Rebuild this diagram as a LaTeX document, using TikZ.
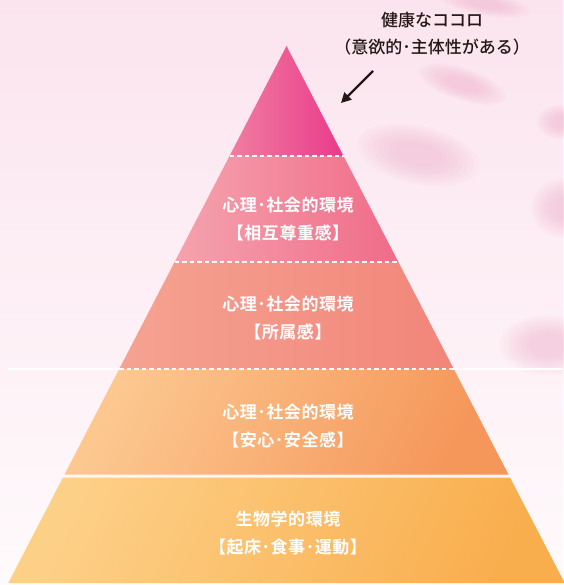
\documentclass[tikz,border=0pt]{standalone}
\usepackage{fontspec}
\setmainfont{Noto Sans CJK JP}
\newfontfamily\lblfont{Noto Sans CJK JP Bold}[LetterSpace=3]
\newfontfamily\topfont{Noto Sans CJK JP Medium}
\usetikzlibrary{arrows.meta}
\definecolor{bgtop}{HTML}{FBE4EE}
\definecolor{bgbot}{HTML}{FFFAFC}
\definecolor{blobpink}{HTML}{F3B3CD}
\definecolor{aL}{HTML}{F07EA0}
\definecolor{aR}{HTML}{EA3A8A}
\definecolor{bL}{HTML}{F5A3AE}
\definecolor{bR}{HTML}{F06B88}
\definecolor{cL}{HTML}{F5A392}
\definecolor{cR}{HTML}{F2857A}
\definecolor{dL}{HTML}{FCC890}
\definecolor{dR}{HTML}{F5965A}
\definecolor{eL}{HTML}{FDD088}
\definecolor{eR}{HTML}{F9AE4E}
\definecolor{ink}{HTML}{231815}
\newcommand\softblob[5]{%
  \foreach \s in {1.15,1.05,0.95,0.85,0.75,0.65,0.55,0.45}{%
    \fill[blobpink, opacity=0.08, rotate around={#5:(#1,#2)}] (#1,#2) ellipse ({#3*\s} and {#4*\s});}}
\tikzset{
  lbl/.style={text=white, font=\lblfont\fontsize{17}{28}\selectfont, align=center, inner sep=0pt},
  toplbl/.style={text=ink, font=\topfont\fontsize{17}{27}\selectfont, align=center, inner sep=0pt},
  sep/.style={draw=white, line width=1.2pt, dash pattern=on 4.5pt off 3pt},
}
\begin{document}
\begin{tikzpicture}[x=1pt,y=1pt]
% background
\shade[top color=bgtop, bottom color=bgbot] (0,0) rectangle (563,-585);
\useasboundingbox (0,0) rectangle (563,-585);
\softblob{462}{-84}{40}{14}{-18}
\softblob{418}{-155}{54}{25}{-12}
\softblob{562}{-122}{22}{15}{0}
\softblob{566}{-208}{30}{26}{0}
\softblob{548}{-345}{42}{26}{0}
\softblob{485}{-4}{40}{10}{-10}
% full-width white line
\draw[white, line width=2pt] (8,-369) -- (563,-369);
% bands
\shade[left color=aL, right color=aR] (286.5,-46) -- (343.5,-156) -- (229.5,-156) -- cycle;
\shade[left color=bL, right color=bR] (229.5,-156) -- (343.5,-156) -- (398.4,-262) -- (174.6,-262) -- cycle;
\shade[left color=cL, right color=cR] (174.6,-262) -- (398.4,-262) -- (453.8,-369) -- (119.2,-369) -- cycle;
\shade[top color=dL, bottom color=dR, shading angle=65] (119.2,-369) -- (453.8,-369) -- (508.5,-474.5) -- (64.5,-474.5) -- cycle;
\shade[top color=eL, bottom color=eR, shading angle=65] (63,-477.5) -- (510,-477.5) -- (564.7,-583) -- (8.3,-583) -- cycle;
% separators
\draw[sep] (229.5,-156) -- (343.5,-156);
\draw[sep] (174.6,-262) -- (398.4,-262);
\draw[sep] (119.2,-369) -- (453.8,-369);
% labels
\node[lbl] (l2) at (288,-219) {心理･社会的環境\\【相互尊重感】};
\node[lbl] (l3) at (288,-318) {心理･社会的環境\\【所属感】};
\node[lbl] (l4) at (288,-426) {心理･社会的環境\\【安心･安全感】};
\node[lbl] (l5) at (288,-533) {生物学的環境\\【起床･食事･運動】};
\node[toplbl] (top) at (432,-34) {健康なココロ\\（意欲的･主体性がある）};
% arrow
\coordinate (as) at (373,-71);
\coordinate (ae) at (341,-103);
\draw[ink, line width=2.4pt, -{Triangle[length=10pt,width=10pt]}] (as) -- (ae);
\end{tikzpicture}
\end{document}
